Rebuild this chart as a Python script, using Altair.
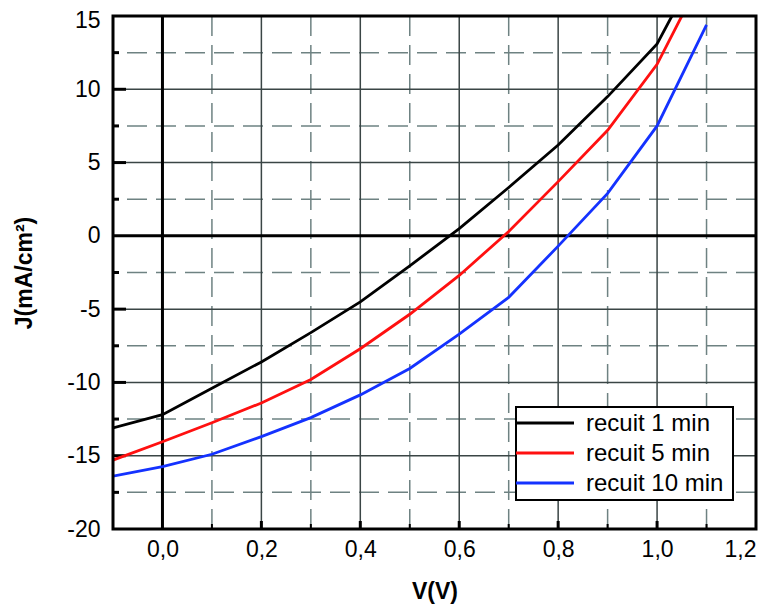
import altair as alt
import pandas as pd

series = ["recuit 1 min", "recuit 5 min", "recuit 10 min"]
colors = ["#000000", "#ff1010", "#1432ff"]

v_1min = [-0.1, 0.0, 0.1, 0.2, 0.3, 0.4, 0.5, 0.6, 0.7, 0.8, 0.9, 1.0, 1.03]
j_1min = [-13.1, -12.2, -10.4, -8.6, -6.6, -4.5, -2.05, 0.5, 3.3, 6.2, 9.5, 13.1, 15.0]

v_5min = [-0.1, 0.0, 0.1, 0.2, 0.3, 0.4, 0.5, 0.6, 0.7, 0.8, 0.9, 1.0, 1.05]
j_5min = [-15.3, -14.05, -12.75, -11.4, -9.8, -7.7, -5.35, -2.7, 0.3, 3.7, 7.2, 11.7, 15.0]

v_10min = [-0.1, 0.0, 0.1, 0.2, 0.3, 0.4, 0.5, 0.6, 0.7, 0.8, 0.9, 1.0, 1.1]
j_10min = [-16.4, -15.75, -14.9, -13.7, -12.4, -10.85, -9.05, -6.7, -4.2, -0.7, 2.9, 7.5, 14.4]

x_ticks = [0.0, 0.2, 0.4, 0.6, 0.8, 1.0, 1.2]
y_ticks = [-20, -15, -10, -5, 0, 5, 10, 15]
x_major = [0.2, 0.4, 0.6, 0.8, 1.0]
x_minor = [0.1, 0.3, 0.5, 0.7, 0.9, 1.1]
y_major = [-15, -10, -5, 5, 10]
y_minor = [-17.5, -12.5, -7.5, -2.5, 2.5, 7.5, 12.5]

rows = []
for name, vs, js in [(series[0], v_1min, j_1min), (series[1], v_5min, j_5min), (series[2], v_10min, j_10min)]:
    for v, j in zip(vs, js):
        rows.append({"series": name, "V": v, "J": j})
df = pd.DataFrame(rows)

W, H = 643, 513
XS = alt.Scale(domain=[-0.1, 1.2], nice=False, zero=False)
YS = alt.Scale(domain=[-20, 15], nice=False, zero=False)
CS = alt.Scale(domain=series, range=colors)
FONT = "Liberation Sans"

AX = alt.Axis(
    values=x_ticks, labelExpr="replace(format(datum.value, '.1f'), '.', ',')",
    ticks=False, grid=False, domain=False, labelFontSize=23, labelPadding=9,
    labelColor="black", title="V(V)", titleFontSize=23, titleFontWeight="bold",
    titlePadding=19, titleColor="black", labelFont=FONT, titleFont=FONT)
AY = alt.Axis(
    values=y_ticks, labelExpr="datum.value + ''", ticks=False, grid=False, domain=False,
    labelFontSize=23, labelPadding=13, labelColor="black",
    labelOffset={"expr": "datum.value == 15 ? 4 : 0"},
    title="J(mA/cm²)", titleFontSize=23, titleFontWeight="bold",
    titlePadding=30, titleColor="black", labelFont=FONT, titleFont=FONT)


def xenc(field):
    return alt.X(field, scale=XS, axis=AX)


def yenc(field):
    return alt.Y(field, scale=YS, axis=AY)


def vlines(vals, **kw):
    return alt.Chart(pd.DataFrame({"v": vals})).mark_rule(**kw).encode(x=xenc("v:Q"))


def hlines(vals, **kw):
    return alt.Chart(pd.DataFrame({"v": vals})).mark_rule(**kw).encode(y=yenc("v:Q"))


minor_kw = dict(color="#6e8282", strokeWidth=1.5, strokeDash=[20, 9])
major_kw = dict(color="#3a4545", strokeWidth=1.5)

layers = [
    vlines(x_minor, **minor_kw),
    hlines(y_minor, **minor_kw),
    vlines(x_major, **major_kw),
    hlines(y_major, **major_kw),
    vlines([0.0], color="black", strokeWidth=3),
    hlines([0.0], color="black", strokeWidth=3),
    # inward ticks on left and bottom axes
    alt.Chart(pd.DataFrame({"v": y_major})).mark_rule(color="black", strokeWidth=3).encode(
        y=yenc("v:Q"), x=alt.value(0), x2=alt.value(13)),
    alt.Chart(pd.DataFrame({"v": y_minor})).mark_rule(color="black", strokeWidth=3).encode(
        y=yenc("v:Q"), x=alt.value(0), x2=alt.value(6)),
    alt.Chart(pd.DataFrame({"v": x_major})).mark_rule(color="black", strokeWidth=3).encode(
        x=xenc("v:Q"), y=alt.value(H), y2=alt.value(H - 8)),
    alt.Chart(pd.DataFrame({"v": x_minor})).mark_rule(color="black", strokeWidth=2).encode(
        x=xenc("v:Q"), y=alt.value(H), y2=alt.value(H - 5)),
    # curves
    alt.Chart(df).mark_line(strokeWidth=2.8, clip=True).encode(
        x=xenc("V:Q"), y=yenc("J:Q"),
        color=alt.Color("series:N", scale=CS, legend=None),
        detail="series:N"),
]

# legend box (drawn by hand)
LX, LY, LW, LH = 403, 391, 217, 93
one = pd.DataFrame({"a": [0]})
layers.append(alt.Chart(one).mark_rect(fill="white", stroke="black", strokeWidth=2).encode(
    x=alt.value(LX), x2=alt.value(LX + LW), y=alt.value(LY), y2=alt.value(LY + LH)))
for i, (name, col) in enumerate(zip(series, colors)):
    ry = LY + 16 + 30 * i
    layers.append(alt.Chart(one).mark_rule(color=col, strokeWidth=3).encode(
        x=alt.value(LX), x2=alt.value(LX + 58), y=alt.value(ry)))
    layers.append(alt.Chart(one).mark_text(
        align="left", baseline="middle", fontSize=24, font=FONT, color="black", text=name).encode(
        x=alt.value(LX + 70), y=alt.value(ry + 1)))

# plot frame
layers.append(alt.Chart(one).mark_rect(fill=None, stroke="black", strokeWidth=3).encode(
    x=alt.value(0), x2=alt.value(W), y=alt.value(0), y2=alt.value(H)))

chart = alt.layer(*layers).properties(
    width=W, height=H,
    autosize=alt.AutoSizeParams(type="none"),
    padding={"left": 105, "top": 8, "right": 10, "bottom": 77},
).configure_view(stroke=None).configure(font=FONT)

chart.save("out.html", embed_options={"renderer": "svg", "actions": False})
